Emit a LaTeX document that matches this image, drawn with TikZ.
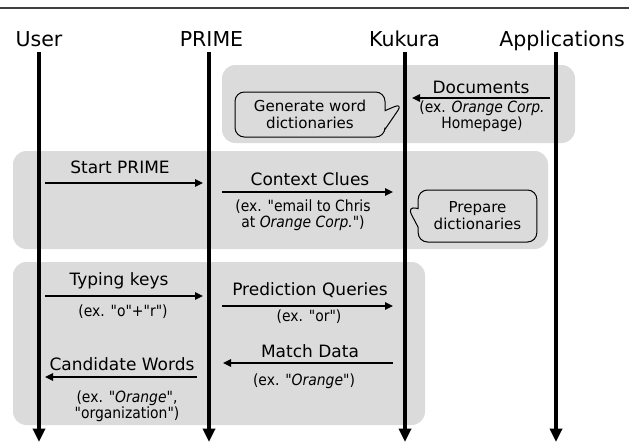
\documentclass[tikz,border=0pt]{standalone}
\usepackage{fontspec}
\setmainfont{DejaVu Sans}
\newfontfamily\exfont[ItalicFont={DejaVu Sans Condensed Oblique}]{DejaVu Sans Condensed}
\usetikzlibrary{positioning,shapes.callouts,arrows.meta}

\tikzset{
  lifeline/.style={line width=3pt, -{Triangle[length=10pt,width=9pt]}},
  msg/.style={line width=1.5pt, -{Triangle[length=6pt,width=5.5pt]}},
  phase/.style={fill=black!14, rounded corners=10pt},
  actor/.style={font=\fontsize{15.4}{18}\selectfont, anchor=base, inner sep=0pt, text depth=4.5pt},
  msglabel/.style={font=\fontsize{12.75}{15}\selectfont, anchor=base, inner sep=0pt},
  example/.style={font=\exfont\fontsize{11.6}{12}\selectfont, align=center, inner sep=0pt},
  note/.style={rectangle callout, draw, line width=0.75pt, rounded corners=7pt, align=center,
    inner sep=0pt, callout pointer width=14pt, font=\fontsize{11.3}{12.75}\selectfont}
}

\begin{document}
\begin{tikzpicture}[x=0.75pt, y=-0.75pt]
  \useasboundingbox (0,0) rectangle (629,443);
  \draw[black!75, line width=1pt] (0,8) -- (629,8);

  % Draw the phase boxes
  \fill[phase] (222,65) rectangle (575,143);
  \fill[phase] (13,151) rectangle (548,249);
  \fill[phase] (13,262) rectangle (425,425);

  % Draw the actors and lifelines
  \node[actor] (user) at (39,46) {User};
  \node[actor] (prime) at (211.5,46) {PRIME};
  \node[actor] (kukura) at (404.5,46) {Kukura};
  \node[actor] (apps) at (562,46) {Applications};
  \coordinate (userEnd) at (39,442);
  \coordinate (primeEnd) at (209,442);
  \coordinate (kukuraEnd) at (405,442);
  \coordinate (appsEnd) at (556,442);
  \draw[lifeline] (user.south -| userEnd) -- (userEnd);
  \draw[lifeline] (prime.south -| primeEnd) -- (primeEnd);
  \draw[lifeline] (kukura.south -| kukuraEnd) -- (kukuraEnd);
  \draw[lifeline] (apps.south -| appsEnd) -- (appsEnd);

  % Documents from the applications
  \coordinate (docA) at (550,98);
  \coordinate (docB) at (412,98);
  \draw[msg] (docA) -- (docB);
  \node[msglabel] (doc) at (481,93) {Documents};
  \node[example] (docEx) at (482,116) {(ex. \textit{Orange Corp.}\\Homepage)};
  \coordinate (genTip) at (403,103);
  \node[note, minimum width=112.5pt, minimum height=33.75pt, callout absolute pointer=(genTip)]
    (gen) at (310,114.5) {Generate word\\dictionaries};

  % Start and context
  \coordinate (startA) at (45,183);
  \coordinate (startB) at (203,183);
  \draw[msg] (startA) -- (startB);
  \node[msglabel] (start) at (120,173) {Start PRIME};
  \coordinate (ctxA) at (222,192);
  \coordinate (ctxB) at (393,192);
  \draw[msg] (ctxA) -- (ctxB);
  \node[msglabel] (ctx) at (310,185) {Context Clues};
  \node[example] (ctxEx) at (303,215) {(ex. "email to Chris\\at \textit{Orange Corp.}")};
  \coordinate (prepTip) at (407,206);
  \node[note, minimum width=89pt, minimum height=39pt, callout absolute pointer=(prepTip)]
    (prep) at (477.5,216) {Prepare\\dictionaries};

  % Typing and prediction
  \coordinate (keyA) at (45,296);
  \coordinate (keyB) at (203,296);
  \draw[msg] (keyA) -- (keyB);
  \node[msglabel] (key) at (119,285) {Typing keys};
  \node[example] (keyEx) at (123,312) {(ex. "o"+"r")};
  \coordinate (queryA) at (222,306);
  \coordinate (queryB) at (393,306);
  \draw[msg] (queryA) -- (queryB);
  \node[msglabel] (query) at (310,295) {Prediction Queries};
  \node[example] (queryEx) at (309,317) {(ex. "or")};
  \coordinate (matchA) at (393,363);
  \coordinate (matchB) at (223,363);
  \draw[msg] (matchA) -- (matchB);
  \node[msglabel] (match) at (310,357) {Match Data};
  \node[example] (matchEx) at (304,381) {(ex. "\textit{Orange}")};
  \coordinate (candA) at (197,377);
  \coordinate (candB) at (45,377);
  \draw[msg] (candA) -- (candB);
  \node[msglabel] (cand) at (122,370) {Candidate Words};
  \node[example] (candEx) at (127,406) {(ex. "\textit{Orange}",\\"organization")};
\end{tikzpicture}
\end{document}
